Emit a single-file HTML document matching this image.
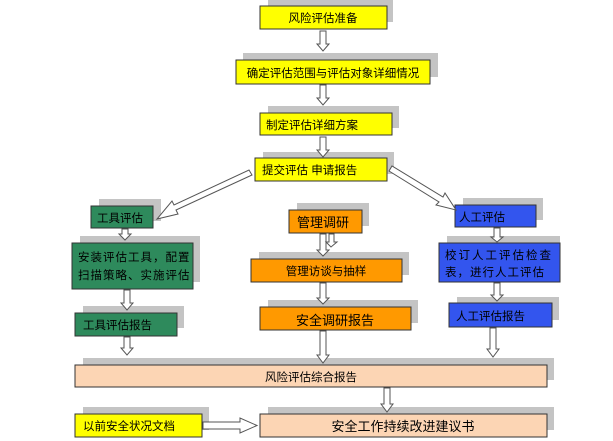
<!DOCTYPE html>
<html><head><meta charset="utf-8"><style>
html,body{margin:0;padding:0;background:#fff;}
svg{display:block;}
text{font-family:"Liberation Sans","Noto Sans CJK SC",sans-serif;font-size:11.5px;fill:#000;}
</style></head><body>
<svg width="613" height="441" viewBox="0 0 613 441" xmlns="http://www.w3.org/2000/svg">
<g fill="#c4c4c4">
<rect x="268" y="0" width="125" height="22"/>
<rect x="243" y="53" width="195" height="24"/>
<rect x="268" y="106" width="131" height="22"/>
<rect x="263" y="152" width="131" height="22"/>
<rect x="99" y="199" width="62" height="22"/>
<rect x="80" y="236" width="120" height="46"/>
<rect x="83" y="306" width="101" height="22"/>
<rect x="297" y="203" width="72" height="23"/>
<rect x="259" y="252" width="150" height="23"/>
<rect x="268" y="300" width="150" height="23"/>
<rect x="463" y="198" width="80" height="22"/>
<rect x="447" y="236" width="113" height="39"/>
<rect x="457" y="297" width="102" height="23"/>
<rect x="83" y="358" width="471" height="22"/>
<rect x="83" y="407" width="126" height="23"/>
<rect x="268" y="407" width="286" height="23"/>
</g>
<g stroke="#333" stroke-width="1">
<rect x="260" y="6" width="127" height="23" fill="#ffff00"/>
<rect x="236" y="60" width="194" height="24" fill="#ffff00"/>
<rect x="260" y="113" width="132" height="22" fill="#ffff00"/>
<rect x="255" y="158" width="132" height="23" fill="#ffff00"/>
<rect x="91" y="206" width="62" height="22" fill="#2e8a5c"/>
<rect x="72" y="243" width="121" height="46" fill="#2e8a5c"/>
<rect x="75" y="313" width="102" height="23" fill="#2e8a5c"/>
<rect x="289" y="210" width="73" height="23" fill="#ff9900"/>
<rect x="251" y="259" width="151" height="23" fill="#ff9900"/>
<rect x="260" y="307" width="151" height="23" fill="#ff9900"/>
<rect x="455" y="205" width="81" height="22" fill="#3355ee"/>
<rect x="439" y="243" width="121" height="39" fill="#3355ee"/>
<rect x="449" y="303" width="103" height="24" fill="#3355ee"/>
<rect x="75" y="365" width="472" height="22" fill="#fcd5b4"/>
<rect x="75" y="414" width="127" height="23" fill="#ffff00"/>
<rect x="260" y="414" width="287" height="23" fill="#fcd5b4"/>
</g>
<g fill="#fff" stroke="#555" stroke-width="1">
<!-- down arrows: body width 6 head width 12 -->
<polygon points="320,31 326,31 326,44 329,44 323,51 317,44 320,44"/>
<polygon points="320,85 326,85 326,98 329,98 323,105 317,98 320,98"/>
<polygon points="320,137 326,137 326,150 329,150 323,157 317,150 320,150"/>
<polygon points="122,229 128,229 128,234 131,234 125,240 119,234 122,234"/>
<polygon points="124,290 130,290 130,303 133,303 127,310 121,303 124,303"/>
<polygon points="124,337 130,337 130,348 133,348 127,355 121,348 124,348"/>
<polygon points="320,234 326,234 326,250 329,250 323,256 317,250 320,250"/>
<polygon points="329,234 334,234 334,242 337,242 331,247 326,242 329,242"/>
<polygon points="320,283 326,283 326,298 329,298 323,304 317,298 320,298"/>
<polygon points="320,331 326,331 326,355 329,355 323,363 317,355 320,355"/>
<polygon points="494,228 500,228 500,237 503,237 497,242 491,237 494,237"/>
<polygon points="494,283 500,283 500,295 503,295 497,301 491,295 494,295"/>
<polygon points="490,328 496,328 496,349 499,349 493,357 487,349 490,349"/>
<polygon points="384,388 390,388 390,404 393,404 387,412 381,404 384,404"/>
<!-- right arrow -->
<polygon points="203,422 240,422 240,418 257,425.5 240,433 240,429 203,429"/>
<!-- diagonal left -->
<polygon points="252,175 249,170 174,205 172,201 157,219 178,214 176,210"/>
<!-- diagonal right -->
<polygon points="389,171 392,166 443,197 445,193 456,210 436,205 439,202"/>
</g>
<text x="323" y="22" text-anchor="middle">风险评估准备</text>
<text x="333" y="77" text-anchor="middle">确定评估范围与评估对象详细情况</text>
<text x="266" y="129">制定评估详细方案</text>
<text x="262" y="174">提交评估 申请报告</text>
<text x="97" y="222" font-size="11">工具评估</text>
<text x="78" y="261" letter-spacing="1">安装评估工具，配置</text>
<text x="78" y="279" letter-spacing="1">扫描策略、实施评估</text>
<text x="83" y="329" font-size="11">工具评估报告</text>
<text x="297" y="227" style="font-size:13px">管理调研</text>
<text x="326" y="275" text-anchor="middle" font-size="11">管理访谈与抽样</text>
<text x="296" y="325" style="font-size:13px">安全调研报告</text>
<text x="459" y="221" font-size="11">人工评估</text>
<text x="445" y="259" letter-spacing="2">校订人工评估检查</text>
<text x="445" y="276" letter-spacing="1">表，进行人工评估</text>
<text x="456" y="320" font-size="11">人工评估报告</text>
<text x="311" y="381" text-anchor="middle">风险评估综合报告</text>
<text x="83" y="430">以前安全状况文档</text>
<text x="403" y="431" text-anchor="middle" style="font-size:13px">安全工作持续改进建议书</text>
</svg>
</body></html>
